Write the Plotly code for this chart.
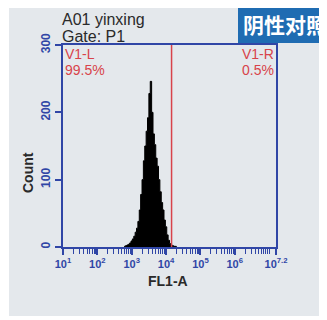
import plotly.graph_objects as go

# histogram: log10(FL1-A) bin starts and counts
log_bins = [2.78, 2.82, 2.86, 2.90, 2.94, 2.98, 3.02, 3.06, 3.10, 3.14, 3.18, 3.22, 3.26,
            3.30, 3.34, 3.38, 3.42, 3.46, 3.50, 3.54, 3.58, 3.62, 3.66, 3.70, 3.74, 3.78,
            3.82, 3.86, 3.90, 3.94, 3.98, 4.02, 4.06, 4.10, 4.14, 4.18, 4.22, 4.26, 4.30]
counts = [1, 2, 3, 4, 6, 9, 12, 16, 22, 28, 38, 55, 78,
          100, 128, 150, 172, 192, 228, 246, 200, 168, 152, 132, 120, 100,
          82, 66, 55, 40, 30, 18, 10, 5, 3, 2, 1, 1, 0]
gate_log = 4.16
x_ticks_log = [1, 2, 3, 4, 5, 6, 7.2]
x_tick_text = ["10<sup>1</sup>", "10<sup>2</sup>", "10<sup>3</sup>", "10<sup>4</sup>",
               "10<sup>5</sup>", "10<sup>6</sup>", "10<sup>7.2</sup>"]
y_ticks = [0, 100, 200, 300]
left_label = ["V1-L", "99.5%"]
right_label = ["V1-R", "0.5%"]

# the page body has an 8px margin, so the figure is 8px smaller and everything is measured
# in reference pixels then shifted
OFF = 8
W, H = 327 - OFF, 320 - OFF
L, R, T, B = 63 - OFF, 51, 45 - OFF, 73
pw, ph = W - L - R, H - T - B
def px(x): return (x - OFF - L) / pw
def py(y): return (H - B - (y - OFF)) / ph

BLUE = "#3046a6"
RED = "#d8434a"
DARK = "#2a2a2a"
FONT = "Liberation Sans"

def note(x, y, text, size, color, xanchor="center", family=FONT, angle=0):
    fig.add_annotation(xref="paper", yref="paper", x=px(x), y=py(y), xanchor=xanchor, yanchor="middle",
                       text=text, showarrow=False, textangle=angle,
                       font=dict(family=family, size=size, color=color))

xs = [10 ** v for v in log_bins]
fig = go.Figure()
fig.add_trace(go.Scatter(x=xs, y=counts, mode="lines", line=dict(color="black", width=1, shape="hv"),
                         fill="tozeroy", fillcolor="black", hoverinfo="skip"))
fig.add_trace(go.Scatter(x=[10 ** gate_log, 10 ** gate_log], y=[0, 300], mode="lines",
                         line=dict(color=RED, width=1.5), hoverinfo="skip"))

# grey panel and badge
fig.add_shape(type="rect", xref="paper", yref="paper", x0=px(9), x1=px(330), y0=py(316), y1=py(0),
              fillcolor="#e4e8ec", line_width=0, layer="below")
fig.add_shape(type="rect", xref="paper", yref="paper", x0=px(238), x1=px(330), y0=py(43), y1=py(0),
              fillcolor="#1f6cb2", line_width=0)
note(241, 24, "<b>阴性对照</b>", 21, "white", "left", "Noto Sans CJK SC")

note(60, 20, "A01 yinxing", 16, DARK, "left")
note(60, 37, "Gate: P1", 16, DARK, "left")
for i, t in enumerate(left_label):
    note(63, 54 + 16 * i, t, 14, RED, "left")
for i, t in enumerate(right_label):
    note(276, 54 + 16 * i, t, 14, RED, "right")
note(28, 173, "<b>Count</b>", 14, DARK, angle=-90)
note(168, 281, "<b>FL1-A</b>", 14, DARK)

fig.update_layout(
    width=W, height=H, margin=dict(l=L, r=R, t=T, b=B),
    paper_bgcolor="white", plot_bgcolor="white", showlegend=False,
    xaxis=dict(type="log", range=[1, 7.2], tickvals=[10 ** v for v in x_ticks_log],
               ticktext=["<b>%s</b>" % t for t in x_tick_text],
               ticks="outside", ticklen=6, tickcolor=BLUE, tickwidth=1.5,
               minor=dict(ticks="outside", ticklen=5, tickcolor=BLUE, tickwidth=1.2, dtick="D1"),
               showline=True, linecolor=BLUE, linewidth=1.5, mirror=True, showgrid=False, zeroline=False,
               tickfont=dict(family=FONT, size=11, color=BLUE)),
    yaxis=dict(range=[0, 300], tickvals=y_ticks, ticktext=["<b>%d</b>" % v for v in y_ticks],
               ticks="outside", ticklen=6, tickcolor=BLUE, tickwidth=1.5,
               tickangle=-90, showline=True, linecolor=BLUE, linewidth=1.5, mirror=True,
               showgrid=False, zeroline=False,
               tickfont=dict(family=FONT, size=12, color=BLUE)),
)

fig.write_html("out.html")
